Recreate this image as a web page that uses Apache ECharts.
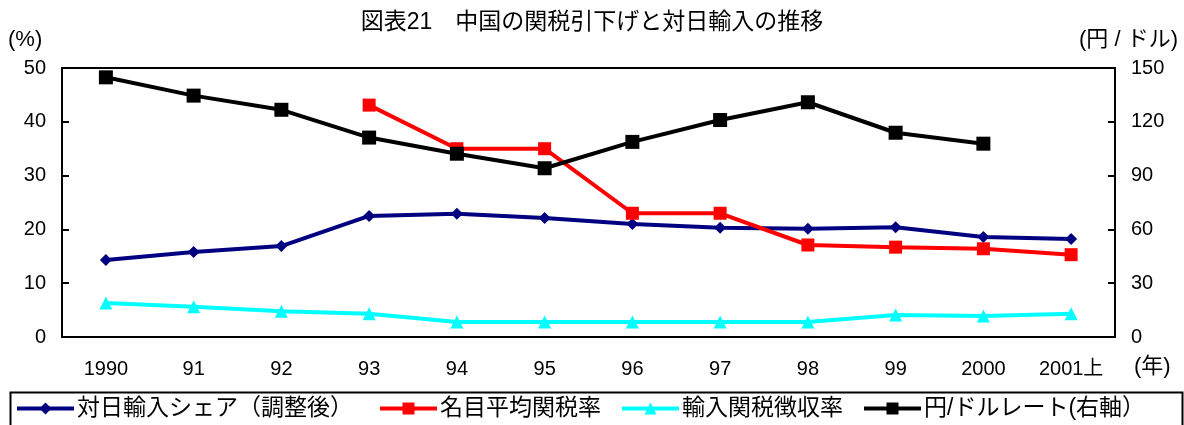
<!DOCTYPE html>
<html><head><meta charset="utf-8">
<script src="https://cdn.jsdelivr.net/npm/echarts@6/dist/echarts.min.js"></script>
<style>html,body{margin:0;padding:0;background:#fff}#c{width:1184px;height:425px}</style>
</head><body><div id="c"></div>
<script>
const categories = ['1990','91','92','93','94','95','96','97','98','99','2000','2001上'];
const shareJapan = [14.3,15.8,16.9,22.5,22.9,22.1,21.0,20.3,20.1,20.4,18.6,18.2];
const nominalTariff = [null,null,null,43.1,35.0,35.0,23.0,23.0,17.1,16.7,16.4,15.3];
const tariffCollection = [6.3,5.6,4.8,4.3,2.8,2.8,2.8,2.8,2.8,4.1,3.9,4.3];
const yenDollar = [144.8,134.6,126.7,111.2,102.2,94.1,108.8,121.0,130.9,113.9,107.8,null];
const leftTicks = [0,10,20,30,40,50];
const rightTicks = [0,30,60,90,120,150];
const names = ['対日輸入シェア（調整後）','名目平均関税率','輸入関税徴収率','円/ドルレート(右軸）'];

const FONT = '"Liberation Sans", Arial, "Noto Sans CJK JP", sans-serif';
const chart = echarts.init(document.getElementById('c'), null, {renderer:'canvas'});
const mkLegend = (name, left) => ({
  data:[name], left:left, top:397, itemWidth:57, itemHeight:15, itemGap:4,
  lineStyle:{width:4},
  textStyle:{fontSize:23, color:'#000', fontFamily:FONT, padding:[0,0,0,-2]}, padding:0
});
chart.setOption({
  animation:false,
  title:{text:'図表21　中国の関税引下げと対日輸入の推移', left:'center', top:6,
    textStyle:{fontSize:23, fontWeight:'normal', color:'#000', fontFamily:FONT}},
  grid:{left:62, right:69, top:68, bottom:88, show:true, borderColor:'#000', borderWidth:2, backgroundColor:'transparent'},
  legend:[mkLegend(names[0],15), mkLegend(names[1],378), mkLegend(names[2],620), mkLegend(names[3],862)],
  xAxis:{type:'category', data:categories, boundaryGap:true,
    axisLine:{lineStyle:{color:'#000', width:2}},
    axisTick:{inside:true, length:7, lineStyle:{color:'#000', width:2}},
    axisLabel:{color:'#000', fontSize:20, margin:22, fontFamily:FONT}},
  yAxis:[
    {type:'value', min:0, max:50, interval:10, splitLine:{show:false},
     axisLine:{show:true, lineStyle:{color:'#000', width:2}},
     axisTick:{show:true, inside:true, length:7, lineStyle:{color:'#000', width:2}},
     axisLabel:{color:'#000', fontSize:20, margin:16, fontFamily:FONT,
       formatter:v=>leftTicks.includes(v)?String(v):''}},
    {type:'value', min:0, max:150, interval:30, splitLine:{show:false}, position:'right',
     axisLine:{show:true, lineStyle:{color:'#000', width:2}},
     axisTick:{show:true, inside:true, length:7, lineStyle:{color:'#000', width:2}},
     axisLabel:{color:'#000', fontSize:20, margin:16, fontFamily:FONT,
       formatter:v=>rightTicks.includes(v)?String(v):''}}
  ],
  series:[
    {name:names[0], type:'line', data:shareJapan, symbol:'diamond', symbolSize:12,
     itemStyle:{color:'#000080'}, lineStyle:{color:'#000080', width:4}},
    {name:names[1], type:'line', data:nominalTariff, symbol:'rect', symbolSize:13,
     itemStyle:{color:'#FF0000'}, lineStyle:{color:'#FF0000', width:4}},
    {name:names[2], type:'line', data:tariffCollection, symbol:'triangle', symbolSize:13,
     itemStyle:{color:'#00FFFF'}, lineStyle:{color:'#00FFFF', width:4}},
    {name:names[3], type:'line', data:yenDollar, yAxisIndex:1, symbol:'rect', symbolSize:14,
     itemStyle:{color:'#000'}, lineStyle:{color:'#000', width:4}}
  ],
  graphic:[
    {type:'rect', left:8, top:390, shape:{width:1172, height:44}, style:{fill:'none', stroke:'#000', lineWidth:2}, z:-1},
    {type:'text', left:8, top:29, style:{text:'(%)', fill:'#000', font:'22px '+FONT}},
    {type:'text', right:6, top:29, style:{text:'(円 / ドル)', fill:'#000', font:'22px '+FONT}},
    {type:'text', left:1134, top:356, style:{text:'(年)', fill:'#000', font:'22px '+FONT}}
  ]
});
</script></body></html>
